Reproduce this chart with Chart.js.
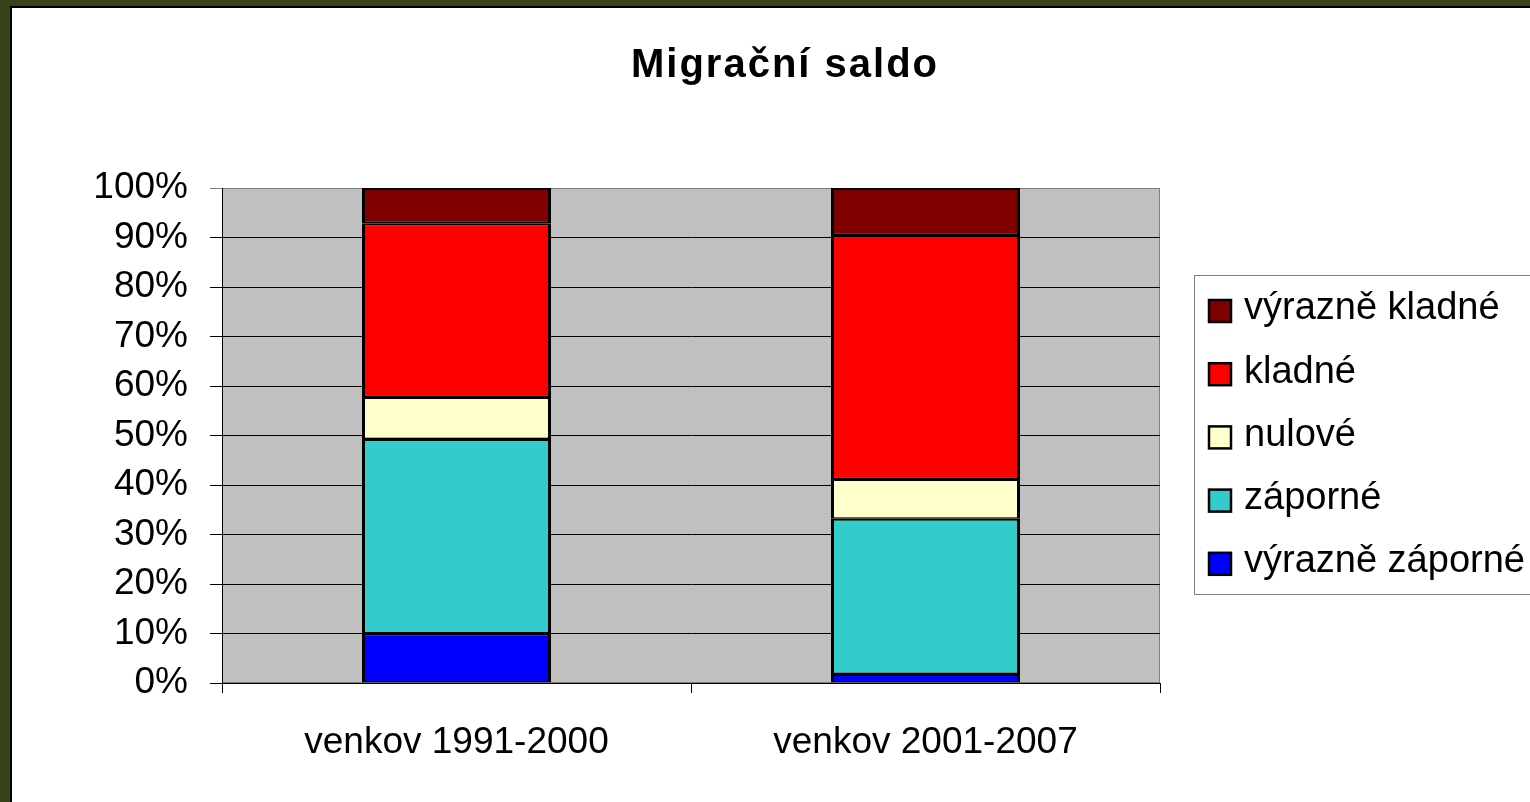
<!DOCTYPE html>
<html>
<head>
<meta charset="utf-8">
<script src="https://cdn.jsdelivr.net/npm/chart.js@4/dist/chart.umd.min.js"></script>
<style>
  html, body { margin: 0; padding: 0; overflow: hidden; background: #38431a; }
  #frame {
    position: absolute; left: 10px; top: 6px;
    width: 1600px; height: 820px;
    background: #fff;
    border-left: 2px solid #000; border-top: 2px solid #000;
  }
  #chart { display: block; }
</style>
</head>
<body>
<div id="frame"><canvas id="chart" width="1544" height="794"></canvas></div>
<script>
  // ---------------- data ----------------
  const categories = ['venkov 1991-2000', 'venkov 2001-2007'];
  const vyrazneZaporne = [10.0, 1.8];
  const zaporne = [39.3, 31.4];
  const nulove = [8.5, 8.0];
  const kladne = [35.1, 49.3];
  const vyrazneKladne = [7.1, 9.5];
  const yTicks = [0, 10, 20, 30, 40, 50, 60, 70, 80, 90, 100];

  const FONT = '"Liberation Sans", Arial, sans-serif';

  function segment(label, data, color) {
    return {
      label: label,
      data: data,
      backgroundColor: color,
      borderColor: '#000',
      borderWidth: { left: 3, right: 3, top: 2, bottom: 1.5 },
      borderSkipped: false,
      barPercentage: 0.403,
      categoryPercentage: 1.0,
    };
  }

  // plot area background + border
  const plotArea = {
    id: 'plotArea',
    beforeDraw(chart) {
      const { ctx, chartArea: a } = chart;
      ctx.save();
      ctx.fillStyle = '#c0c0c0';
      ctx.fillRect(a.left, a.top, a.right - a.left, a.bottom - a.top);
      ctx.strokeStyle = '#808080';
      ctx.lineWidth = 1;
      ctx.strokeRect(a.left + 0.5, a.top + 0.5, a.right - a.left - 1, a.bottom - a.top - 1);
      ctx.restore();
    }
  };

  // title with slightly wide spacing
  const titlePlugin = {
    id: 'titlePlugin',
    afterDraw(chart) {
      const ctx = chart.ctx;
      ctx.save();
      ctx.font = 'bold 40px ' + FONT;
      ctx.letterSpacing = '2px';
      ctx.fillStyle = '#000';
      ctx.textAlign = 'center';
      ctx.textBaseline = 'alphabetic';
      ctx.fillText('Migrační saldo', 773, 69);
      ctx.restore();
    }
  };

  // boxed legend, top item = top segment
  const boxLegend = {
    id: 'boxLegend',
    afterDraw(chart) {
      const ctx = chart.ctx;
      const items = chart.data.datasets.slice().reverse();
      ctx.save();
      ctx.strokeStyle = '#808080';
      ctx.lineWidth = 1;
      ctx.strokeRect(1182.5, 267.5, 360, 319);
      ctx.font = '38px ' + FONT;
      ctx.textBaseline = 'middle';
      items.forEach((ds, i) => {
        const cy = 303 + i * 63.2;
        ctx.fillStyle = ds.backgroundColor;
        ctx.fillRect(1197, cy - 11, 22, 22);
        ctx.strokeStyle = '#000';
        ctx.lineWidth = 2.5;
        ctx.strokeRect(1197, cy - 11, 22, 22);
        ctx.fillStyle = '#000';
        ctx.fillText(ds.label, 1232, cy - 2);
      });
      ctx.restore();
    }
  };

  new Chart(document.getElementById('chart'), {
    type: 'bar',
    data: {
      labels: categories,
      datasets: [
        segment('výrazně záporné', vyrazneZaporne, '#0000ff'),
        segment('záporné', zaporne, '#33cccc'),
        segment('nulové', nulove, '#ffffcc'),
        segment('kladné', kladne, '#ff0000'),
        segment('výrazně kladné', vyrazneKladne, '#800000'),
      ]
    },
    options: {
      responsive: false,
      animation: false,
      events: [],
      layout: { padding: { left: 0, top: 180, right: 396, bottom: 0 } },
      plugins: {
        legend: { display: false },
        title: { display: false },
        tooltip: { enabled: false },
      },
      scales: {
        x: {
          stacked: true,
          afterFit: s => { s.height = 119; },
          grid: { drawOnChartArea: false, drawTicks: true, tickLength: 10, color: '#000', offset: true },
          border: { display: true, color: '#000', width: 1 },
          ticks: { color: '#000', padding: 28, font: { family: FONT, size: 37 } },
        },
        y: {
          stacked: true,
          min: 0,
          max: 100,
          afterFit: s => { s.width = 210; },
          afterBuildTicks: s => { s.ticks = yTicks.map(v => ({ value: v })); },
          grid: {
            color: c => (c.tick && c.tick.value === 100 ? '#808080' : '#000'),
            lineWidth: 1,
            tickLength: 12,
          },
          border: { display: true, color: '#000', width: 1 },
          ticks: {
            color: '#000',
            padding: 22,
            font: { family: FONT, size: 37 },
            callback: v => v + '%',
          },
        }
      }
    },
    plugins: [plotArea, titlePlugin, boxLegend]
  });
</script>
</body>
</html>
